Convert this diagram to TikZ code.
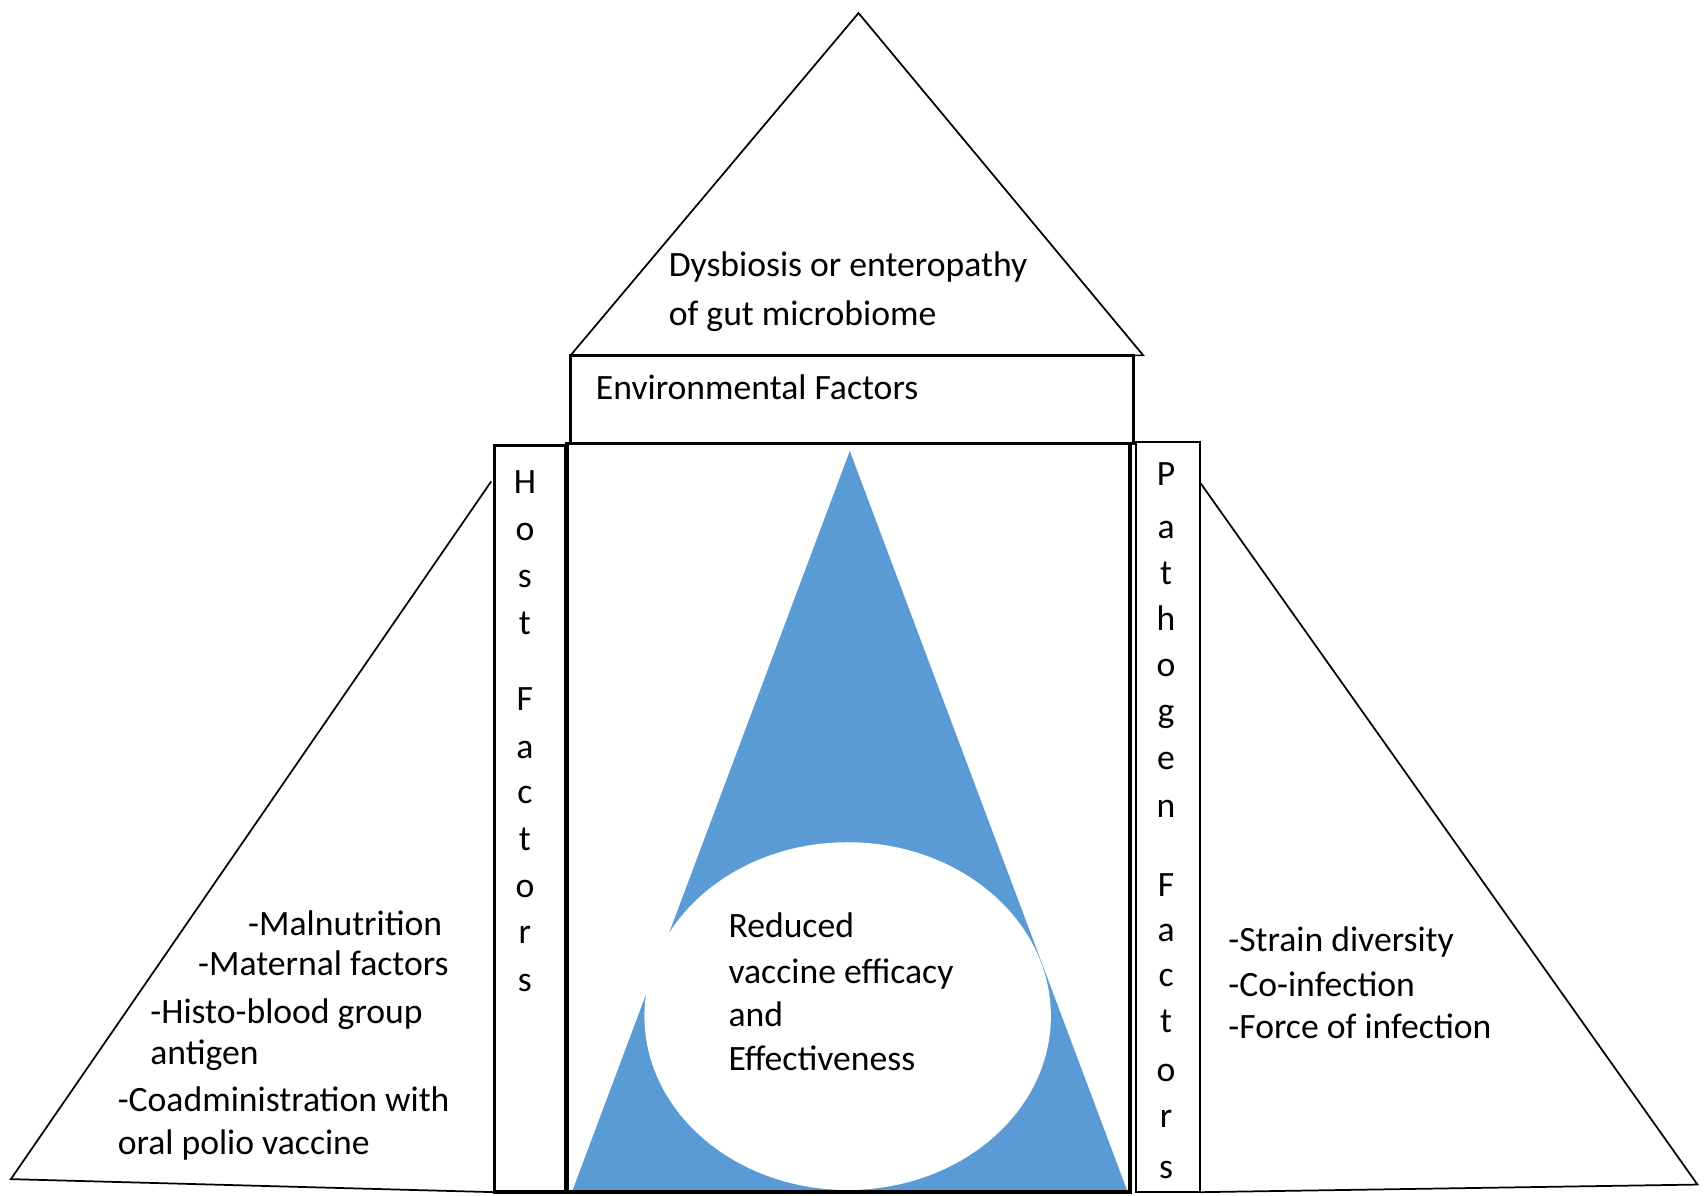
\documentclass[tikz,border=0pt]{standalone}
\usepackage{fontspec}
\setmainfont{Carlito}
\usetikzlibrary{calc}
\definecolor{coneblue}{RGB}{91,155,213}
\begin{document}
\begin{tikzpicture}[x=0.5pt,y=-0.5pt,
  thinline/.style={draw=black,line width=0.8pt},
  boxline/.style={draw=black,line width=1.1pt},
  heavyline/.style={draw=black,line width=1.7pt},
  txt/.style={font=\fontsize{16.4}{20}\selectfont,inner sep=0pt,anchor=mid west,yshift=-2.5pt},
  letter/.style={font=\fontsize{16.4}{20}\selectfont,inner sep=0pt,anchor=mid,yshift=-2.5pt}]
\useasboundingbox (0,0) rectangle (1568,1100);
\fill[white] (0,0) rectangle (1568,1100);

% corner points
\coordinate (topApex) at (790,12);
\coordinate (topL) at (525,327);
\coordinate (topR) at (1052,327);
\coordinate (leftApex) at (452,443);
\coordinate (leftFoot) at (10,1085);
\coordinate (leftBase) at (455,1097);
\coordinate (rightApex) at (1105,445);
\coordinate (rightFoot) at (1562,1090);
\coordinate (rightBase) at (1105,1097);

% roof triangle
\draw[thinline] (topL) -- (topApex) -- (topR) -- cycle;

% side triangles
\draw[thinline] (leftApex) -- (leftFoot) -- (leftBase);
\draw[thinline] (rightApex) -- (rightFoot) -- (rightBase);

% environmental band
\draw[boxline] (525,327) rectangle (1043,408);

% side columns
\draw[heavyline] (455,410) rectangle (521,1097);
\draw[thinline] (1045,407) rectangle (1104,1097);

% blue cone with the white ellipse
\fill[coneblue] (782,415) -- (1037,1095) -- (527,1095) -- cycle;
\fill[white] (780,935) ellipse [x radius=187, y radius=160];

% central frame
\draw[heavyline] (522,408) rectangle (1040,1097);

% texts
\node[txt] (dys1) at (615,245) {Dysbiosis or enteropathy};
\node[txt] (dys2) at (615,290) {of gut microbiome};
\node[txt] (env) at (548,358) {Environmental Factors};

\node[txt] (h1) at (228,851) {-Malnutrition};
\node[txt] (h2) at (182,888) {-Maternal factors};
\node[txt] (h3) at (138,932) {-Histo-blood group};
\node[txt] (h4) at (138,970) {antigen};
\node[txt] (h5) at (108,1013) {-Coadministration with};
\node[txt] (h6) at (108,1053) {oral polio vaccine};

\node[txt] (c1) at (670,853) {Reduced};
\node[txt] (c2) at (670,895) {vaccine efficacy};
\node[txt] (c3) at (670,935) {and};
\node[txt] (c4) at (670,975) {Effectiveness};

\node[txt] (p1) at (1130,866) {-Strain diversity};
\node[txt] (p2) at (1130,907) {-Co-infection};
\node[txt] (p3) at (1130,946) {-Force of infection};

% vertical column labels
\foreach \ch/\yy [count=\i] in {H/444,o/488,s/531,t/574,F/644,a/688,c/730,t/773,o/816,r/858,s/903}
  \node[letter] (host\i) at (483,\yy) {\ch};
\foreach \ch/\yy [count=\i] in {P/437,a/486,t/528,h/570,o/613,g/655,e/698,n/742,F/815,a/857,c/898,t/940,o/985,r/1028,s/1075}
  \node[letter] (path\i) at (1073,\yy) {\ch};
\end{tikzpicture}
\end{document}
